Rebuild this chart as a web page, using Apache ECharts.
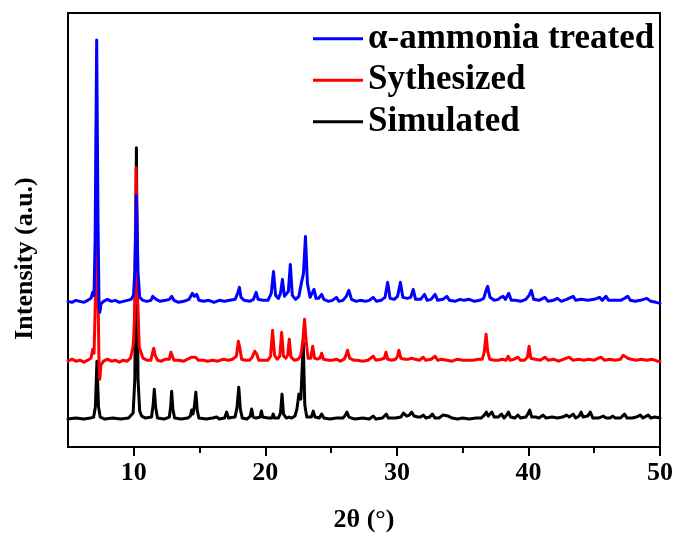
<!DOCTYPE html>
<html>
<head>
<meta charset="utf-8">
<title>XRD patterns</title>
<script src="https://cdn.jsdelivr.net/npm/echarts@6/dist/echarts.min.js"></script>
<style>
  html, body { margin: 0; padding: 0; background: #fff; }
  #chart { width: 677px; height: 538px; }
</style>
</head>
<body>
<div id="chart"></div>
<script>
// Series names (legend order, top to bottom)
const seriesNames = ['α-ammonia treated', 'Sythesized', 'Simulated'];
const seriesColors = ['#0000ff', '#ff0000', '#000000'];

// Vertical offsets used to stack the patterns (a.u.)
const offsets = { treated: 146, synthesized: 86, simulated: 28 };

// Major / minor tick positions on the 2θ axis
const majorTicks = [10, 20, 30, 40, 50];
const minorTicks = [15, 25, 35, 45];

// Simulated pattern: [2θ, intensity above its baseline]
const simulated = [
  [5.0,0],[5.6,1],[6.2,0],[6.7,1],[6.95,2],[7.08,12],[7.2,58],[7.32,12],[7.45,2],[7.8,0],[8.4,1],[9.0,0],[9.6,1],
  [9.95,6],[10.08,40],[10.2,272],[10.32,40],[10.45,8],[10.6,3],[10.9,1],[11.35,2],[11.47,14],[11.56,30],[11.66,12],
  [11.8,1],[12.3,0],[12.7,2],[12.8,12],[12.88,28],[12.97,10],[13.1,1],[13.6,0],[14.1,1],[14.3,3],[14.4,9],[14.5,5],
  [14.6,12],[14.72,27],[14.82,9],[14.95,1],[15.5,0],[16.0,1],[16.3,2],[16.5,0],[16.9,1],[17.06,7],[17.2,1],[17.7,2],
  [17.85,12],[17.98,32],[18.1,10],[18.25,1],[18.6,0],[18.85,3],[18.96,10],[19.07,2],[19.3,1],[19.6,2],[19.7,8],
  [19.8,2],[20.2,1],[20.5,1],[20.6,5],[20.7,1],[21.0,1],[21.15,6],[21.27,25],[21.38,5],[21.6,1],[21.8,2],[21.9,4],
  [22.0,1],[22.25,3],[22.4,10],[22.55,25],[22.7,20],[22.88,77],[23.0,14],[23.15,2],[23.5,2],[23.64,8],[23.78,2],
  [24.1,1],[24.28,5],[24.45,1],[24.9,0],[25.4,1],[25.9,1],[26.08,4],[26.2,7],[26.35,2],[26.8,0],[27.4,1],[27.9,0],
  [28.2,3],[28.4,0],[28.9,1],[29.2,5],[29.35,1],[29.9,1],[30.3,2],[30.5,6],[30.62,8],[30.75,3],[30.95,4],[31.12,7],
  [31.3,3],[31.6,2],[31.8,2],[32.0,4],[32.2,1],[32.5,2],[32.7,5],[32.9,1],[33.2,1],[33.5,4],[33.65,5],[33.9,3],
  [34.2,1],[34.6,0],[35.0,1],[35.5,0],[36.0,1],[36.4,1],[36.65,4],[36.8,7],[36.95,3],[37.1,5],[37.22,7],[37.4,2],
  [37.7,2],[37.95,5],[38.15,1],[38.35,4],[38.48,7],[38.65,2],[38.95,1],[39.2,4],[39.4,1],[39.8,2],[39.95,5],
  [40.1,9],[40.25,2],[40.6,2],[40.8,1],[41.1,4],[41.35,1],[41.8,2],[42.2,1],[42.6,2],[42.9,4],[43.1,2],[43.4,5],
  [43.6,1],[43.85,3],[44.0,7],[44.15,2],[44.5,3],[44.7,7],[44.9,1],[45.3,1],[45.7,3],[45.9,1],[46.2,1],[46.4,3],
  [46.6,1],[47.0,1],[47.3,5],[47.5,1],[47.9,1],[48.2,2],[48.5,4],[48.7,1],[49.1,4],[49.3,1],[49.6,2],[50.0,1]
];

// As-synthesized sample
const synthesized = [
  [5.0,0],[5.3,2],[5.6,0],[5.9,1],[6.2,-1],[6.5,1],[6.75,3],[6.88,12],[6.98,8],[7.08,60],[7.16,240],[7.26,90],
  [7.36,-5],[7.42,-18],[7.5,-4],[7.7,0],[8.0,2],[8.3,0],[8.6,1],[8.9,-1],[9.2,1],[9.5,0],[9.75,3],[9.95,15],
  [10.05,40],[10.18,194],[10.3,60],[10.42,14],[10.55,14],[10.7,3],[11.0,1],[11.3,1],[11.42,8],[11.52,13],[11.62,6],
  [11.8,1],[12.1,0],[12.4,2],[12.7,2],[12.82,9],[12.92,8],[13.05,1],[13.4,1],[13.8,0],[14.1,2],[14.4,4],[14.55,6],
  [14.7,4],[14.9,1],[15.3,1],[15.6,0],[16.0,1],[16.4,0],[16.8,2],[17.2,1],[17.5,2],[17.8,5],[17.95,20],[18.05,14],
  [18.2,2],[18.5,1],[18.8,1],[19.0,4],[19.2,10],[19.35,7],[19.5,1],[19.9,1],[20.2,1],[20.4,5],[20.55,31],[20.7,6],
  [20.9,2],[21.1,5],[21.24,29],[21.38,5],[21.55,3],[21.7,6],[21.82,22],[21.95,4],[22.2,1],[22.5,2],[22.7,6],
  [22.85,20],[22.98,42],[23.1,20],[23.25,3],[23.45,3],[23.6,15],[23.74,3],[23.95,2],[24.15,3],[24.28,8],[24.42,2],
  [24.8,1],[25.1,1],[25.4,2],[25.7,0],[26.0,2],[26.13,6],[26.25,11],[26.4,3],[26.7,1],[27.0,1],[27.4,0],[27.8,1],
  [28.2,5],[28.4,1],[28.8,2],[29.05,3],[29.17,9],[29.3,2],[29.6,1],[29.9,2],[30.05,5],[30.15,11],[30.3,3],[30.6,2],
  [30.9,2],[31.1,3],[31.24,5],[31.4,2],[31.7,1],[32.0,4],[32.2,1],[32.6,2],[32.9,5],[33.1,1],[33.4,2],[33.8,1],
  [34.2,0],[34.6,2],[35.0,1],[35.4,1],[35.8,1],[36.2,2],[36.5,2],[36.65,10],[36.78,27],[36.9,10],[37.05,2],
  [37.4,1],[37.7,1],[38.0,2],[38.3,1],[38.46,5],[38.6,1],[38.9,2],[39.2,4],[39.4,1],[39.7,1],[39.92,4],[40.05,15],
  [40.18,3],[40.5,2],[40.9,1],[41.25,4],[41.5,1],[41.9,2],[42.3,0],[42.7,2],[43.1,4],[43.4,1],[43.8,2],[44.2,1],
  [44.6,2],[45.0,1],[45.5,4],[45.8,1],[46.2,2],[46.6,1],[47.0,2],[47.2,6],[47.35,7],[47.55,3],[47.8,2],[48.2,1],
  [48.6,2],[49.0,1],[49.4,2],[49.8,0],[50.0,0]
];

// Sample after ammonia treatment
const treated = [
  [5.0,0],[5.3,-1],[5.6,1],[5.9,0],[6.2,-1],[6.5,1],[6.75,3],[6.88,9],[6.98,6],[7.06,60],[7.18,262],[7.28,80],
  [7.36,-4],[7.42,-11],[7.5,-3],[7.7,0],[8.0,2],[8.3,0],[8.6,1],[8.9,-1],[9.2,0],[9.5,1],[9.8,2],[9.98,6],
  [10.08,30],[10.2,106],[10.32,30],[10.45,4],[10.7,1],[11.0,0],[11.3,1],[11.44,5],[11.56,7],[11.7,2],[12.0,0],
  [12.4,1],[12.7,2],[12.88,5],[13.05,1],[13.4,-1],[13.8,0],[14.2,2],[14.45,8],[14.6,5],[14.78,7],[14.95,1],
  [15.3,0],[15.7,1],[16.1,-1],[16.5,1],[16.9,0],[17.3,1],[17.7,2],[17.9,8],[18.03,14],[18.15,4],[18.4,1],[18.8,0],
  [19.1,2],[19.3,9],[19.45,2],[19.8,1],[20.2,1],[20.45,8],[20.62,30],[20.78,6],[21.0,3],[21.15,8],[21.3,22],
  [21.45,5],[21.6,4],[21.75,10],[21.9,37],[22.05,6],[22.3,2],[22.55,5],[22.75,19],[22.9,28],[23.05,65],[23.2,18],
  [23.4,4],[23.55,6],[23.7,12],[23.85,3],[24.05,3],[24.28,7],[24.45,2],[24.8,0],[25.1,1],[25.4,4],[25.6,0],
  [25.9,1],[26.15,5],[26.35,11],[26.55,2],[26.9,0],[27.2,1],[27.6,0],[27.9,1],[28.2,4],[28.45,0],[28.8,1],[29.1,4],
  [29.3,19],[29.48,3],[29.8,2],[30.05,5],[30.27,19],[30.45,4],[30.8,3],[31.05,4],[31.24,12],[31.42,2],[31.8,2],
  [32.1,7],[32.3,1],[32.6,2],[32.9,7],[33.1,1],[33.5,2],[33.8,5],[34.0,1],[34.4,0],[34.8,2],[35.1,1],[35.5,2],
  [35.9,0],[36.3,1],[36.6,3],[36.78,11],[36.9,15],[37.08,4],[37.4,1],[37.7,2],[37.9,4],[38.07,5],[38.25,2],
  [38.5,8],[38.7,1],[39.0,1],[39.4,0],[39.8,2],[40.05,6],[40.22,11],[40.4,2],[40.8,1],[41.25,4],[41.5,0],[41.9,1],
  [42.2,3],[42.5,0],[42.9,2],[43.4,5],[43.6,1],[44.0,2],[44.5,1],[45.0,2],[45.4,4],[45.6,1],[45.9,5],[46.1,1],
  [46.5,1],[47.0,1],[47.3,3],[47.55,5],[47.75,1],[48.1,0],[48.5,1],[49.0,3],[49.3,0],[49.7,-1],[50.0,-2]
];

const FONT = '"Liberation Serif", "Times New Roman", serif';

function shifted(points, off) {
  return points.map(p => [p[0], p[1] + off]);
}

function traceSeries(name, color, points, off) {
  return {
    name: name,
    type: 'line',
    data: shifted(points, off),
    showSymbol: false,
    symbol: 'none',
    smooth: false,
    sampling: null,
    clip: true,
    color: color,
    lineStyle: { color: color, width: 3, join: 'round', cap: 'round' },
    emphasis: { disabled: true }
  };
}

const chart = echarts.init(document.getElementById('chart'), null, { renderer: 'canvas' });

chart.setOption({
  animation: false,
  backgroundColor: '#ffffff',
  textStyle: { fontFamily: FONT },
  grid: {
    left: 68, right: 17, top: 13, bottom: 90,
    show: true, borderColor: '#000', borderWidth: 2, backgroundColor: 'transparent'
  },
  legend: {
    orient: 'vertical',
    left: 308,
    top: 13,
    itemWidth: 50,
    itemHeight: 3,
    itemGap: 0,
    icon: 'rect',
    data: seriesNames,
    textStyle: { fontFamily: FONT, fontWeight: 'bold', fontSize: 35, color: '#000', lineHeight: 41.5 },
    selectedMode: false
  },
  xAxis: [
    {
      type: 'value',
      min: 5, max: 50,
      position: 'bottom',
      name: '2θ (°)',
      nameLocation: 'middle',
      nameGap: 60,
      nameTextStyle: { fontFamily: FONT, fontWeight: 'bold', fontSize: 26, color: '#000' },
      axisLine: { show: true, onZero: false, lineStyle: { color: '#000', width: 2 } },
      axisTick: { show: true, customValues: majorTicks, length: 9, inside: false, lineStyle: { color: '#000', width: 2 } },
      axisLabel: { show: true, customValues: majorTicks, margin: 13, fontFamily: FONT, fontWeight: 'bold', fontSize: 26, color: '#000' },
      splitLine: { show: false }
    },
    {
      type: 'value',
      min: 5, max: 50,
      position: 'bottom',
      offset: 0,
      axisLine: { show: false },
      axisTick: { show: true, customValues: minorTicks, length: 6, inside: false, lineStyle: { color: '#000', width: 2 } },
      axisLabel: { show: false },
      splitLine: { show: false }
    }
  ],
  yAxis: {
    type: 'value',
    min: 0, max: 435,
    name: 'Intensity (a.u.)',
    nameLocation: 'middle',
    nameRotate: 90,
    nameGap: 30,
    nameTextStyle: { fontFamily: FONT, fontWeight: 'bold', fontSize: 26, color: '#000', padding: [0, 57, 0, 0] },
    axisLine: { show: true, onZero: false, lineStyle: { color: '#000', width: 2 } },
    axisTick: { show: false },
    axisLabel: { show: false },
    splitLine: { show: false }
  },
  series: [
    traceSeries(seriesNames[2], seriesColors[2], simulated, offsets.simulated),
    traceSeries(seriesNames[1], seriesColors[1], synthesized, offsets.synthesized),
    traceSeries(seriesNames[0], seriesColors[0], treated, offsets.treated)
  ]
});
</script>
</body>
</html>
